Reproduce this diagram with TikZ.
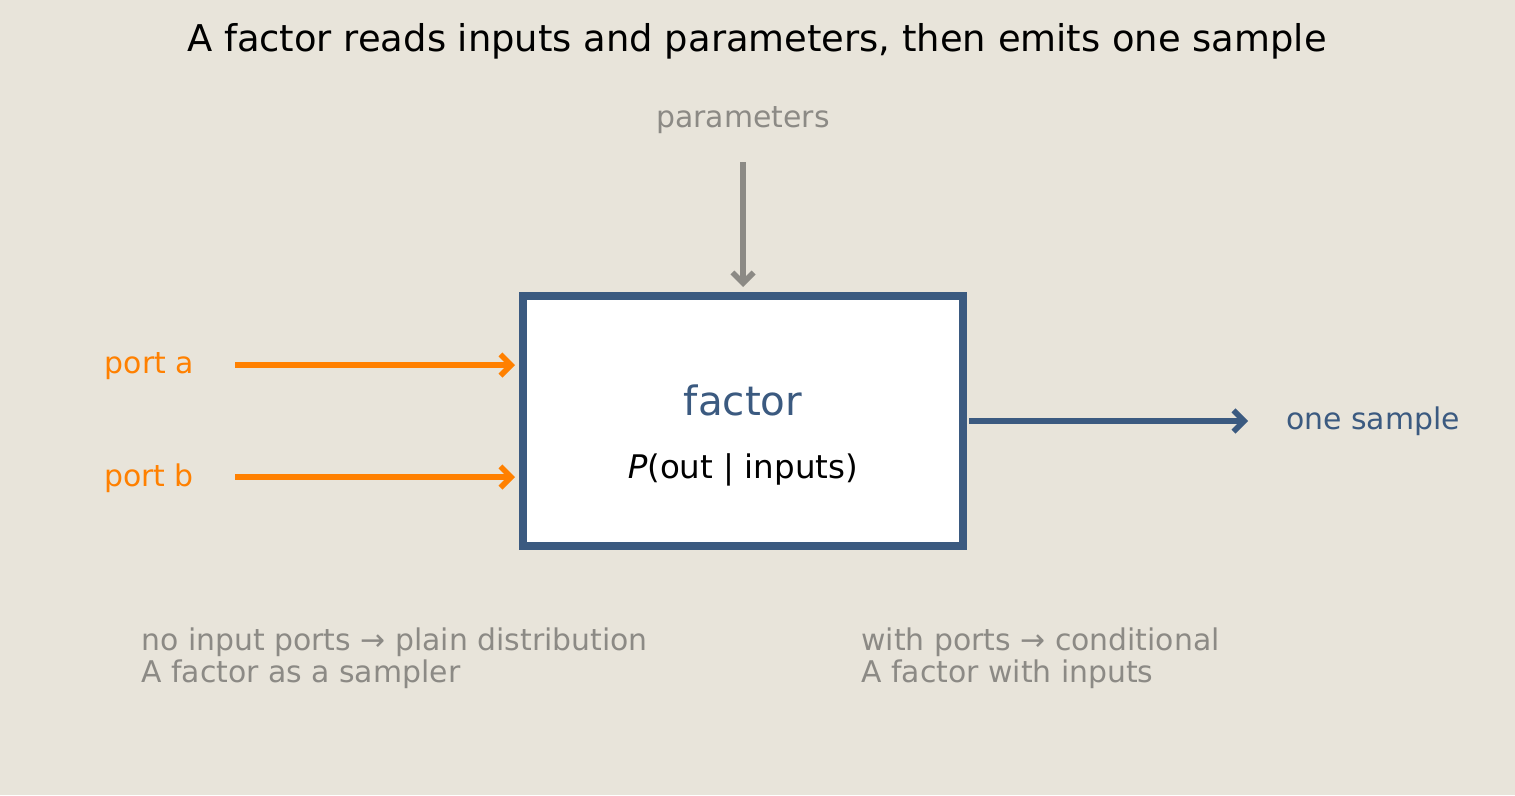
\documentclass[tikz,border=0pt]{standalone}
\usepackage{fontspec}
\setmainfont{DejaVu Sans}
\usetikzlibrary{arrows.meta}
\definecolor{bg}{HTML}{E8E4DA}
\definecolor{navy}{HTML}{3B5A80}
\definecolor{port}{HTML}{FF8000}
\definecolor{mutedgray}{HTML}{8C8A85}
\tikzset{
  flow/.style={line width=3.2pt, -{Straight Barb[length=6pt,width=12pt]}},
  note/.style={mutedgray, font=\fontsize{17}{18.5}\selectfont, align=left, anchor=north west, inner sep=0pt}
}
\begin{document}
\begin{tikzpicture}[x=0.02cm, y=-0.02cm]
    \fill[bg] (0,0) rectangle (1515,795);

    \node[font=\fontsize{21}{24}\selectfont] (title) at (757,41) {A factor reads inputs and parameters, then emits one sample};

    % the factor box
    \draw[navy, line width=4pt, fill=white] (523,296) rectangle (963,546);
    \node[navy, font=\fontsize{23}{27}\selectfont] (fac) at (743,400) {factor};
    \node[font=\fontsize{18.5}{22}\selectfont] (dist) at (743,470) {\textit{P}(out | inputs)};

    % parameters
    \node[note, anchor=center] (par) at (743,120) {parameters};
    \coordinate (parS) at (743,162);
    \coordinate (parE) at (743,287);
    \draw[flow, mutedgray] (parS) -- (parE);

    % ports
    \node[port, font=\fontsize{17}{19}\selectfont, anchor=east] (pa) at (200,366) {port a};
    \node[port, font=\fontsize{17}{19}\selectfont, anchor=east] (pb) at (200,478) {port b};
    \coordinate (paS) at (235,365);  \coordinate (paE) at (515,365);
    \coordinate (pbS) at (235,477);  \coordinate (pbE) at (515,477);
    \draw[flow, port] (paS) -- (paE);
    \draw[flow, port] (pbS) -- (pbE);

    % output
    \coordinate (outS) at (969,421);
    \coordinate (outE) at (1248,421);
    \draw[flow, navy] (outS) -- (outE);
    \node[navy, font=\fontsize{17}{19}\selectfont, anchor=west] (out) at (1280,421) {one sample};

    % notes
    \node[note] (n1) at (141,627) {no input ports → plain distribution\\A factor as a sampler};
    \node[note] (n2) at (861,627) {with ports → conditional\\A factor with inputs};
\end{tikzpicture}
\end{document}
